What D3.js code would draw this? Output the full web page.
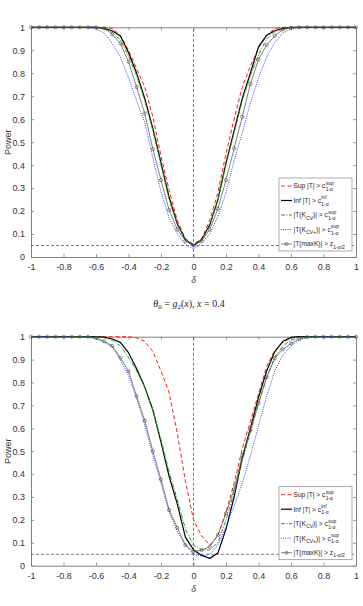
<!DOCTYPE html>
<html><head><meta charset="utf-8">
<script src="https://cdn.jsdelivr.net/npm/d3@7"></script>
<style>body{margin:0;background:#fff}svg{display:block}</style>
</head><body>
<script>
const delta = [-1,-0.95,-0.9,-0.85,-0.8,-0.75,-0.7,-0.65,-0.6,-0.55,-0.5,-0.45,-0.4,-0.35,-0.3,-0.25,-0.2,-0.15,-0.1,-0.05,0,0.05,0.1,0.15,0.2,0.25,0.3,0.35,0.4,0.45,0.5,0.55,0.6,0.65,0.7,0.75,0.8,0.85,0.9,0.95,1];
const xTicks = [-1,-0.8,-0.6,-0.4,-0.2,0,0.2,0.4,0.6,0.8,1];
const xTickLabels = ["-1","-0.8","-0.6","-0.4","-0.2","0","0.2","0.4","0.6","0.8","1"];
const yTicks = [0,0.1,0.2,0.3,0.4,0.5,0.6,0.7,0.8,0.9,1];
const yTickLabels = ["0","0.1","0.2","0.3","0.4","0.5","0.6","0.7","0.8","0.9","1"];
const alphaLevel = 0.05;

// Panel 1
const supT1 = [1,1,1,1,1,1,1,1,1, 1,0.995,0.965,0.9,0.82,0.74,0.61,0.44,0.29,0.16,0.08,0.055,0.08,0.16,0.28,0.45,0.6,0.74,0.83,0.91,0.965,0.995, 1,1,1,1,1,1,1,1,1,1];
const infT1 = [1,1,1,1,1,1,1,1,1, 0.995,0.985,0.962,0.89,0.8,0.69,0.56,0.41,0.26,0.145,0.075,0.05,0.075,0.14,0.25,0.41,0.55,0.69,0.8,0.915,0.965,0.985,0.995, 1,1,1,1,1,1,1,1,1];
const cvT1  = [1,1,1,1,1,1,1,1,1, 0.993,0.978,0.945,0.875,0.79,0.68,0.55,0.4,0.25,0.14,0.075,0.05,0.072,0.135,0.245,0.4,0.54,0.68,0.79,0.88,0.95,0.98,0.993, 1,1,1,1,1,1,1,1,1];
const cvpT1 = [1,1,1,1,1,1,1, 0.998,0.993,0.975,0.93,0.87,0.78,0.68,0.585,0.43,0.285,0.17,0.1,0.055,0.035,0.06,0.1,0.175,0.28,0.42,0.54,0.67,0.78,0.87,0.935,0.975,0.993,0.998, 1,1,1,1,1,1,1];
const maxK1 = [1,1,1,1,1,1,1,1,1, 0.995,0.97,0.93,0.85,0.74,0.625,0.47,0.335,0.205,0.12,0.07,0.05,0.07,0.12,0.21,0.335,0.473,0.61,0.753,0.86,0.923,0.963,0.99,0.998, 1,1,1,1,1,1,1,1];

// Panel 2
const supT2 = [1,1,1,1,1,1,1,1,1,1,1,1,1, 0.995,0.98,0.935,0.85,0.755,0.58,0.37,0.2,0.13,0.09,0.13,0.235,0.36,0.51,0.63,0.75,0.87,0.94,0.975,0.995, 1,1,1,1,1,1,1,1];
const infT2 = [1,1,1,1,1,1,1,1,1, 0.998,0.99,0.975,0.93,0.86,0.78,0.68,0.54,0.39,0.27,0.125,0.07,0.045,0.032,0.055,0.16,0.3,0.47,0.6,0.735,0.85,0.935,0.98,0.997, 1,1,1,1,1,1,1,1];
const cvT2  = [1,1,1,1,1,1,1,1,1, 0.995,0.985,0.96,0.91,0.85,0.78,0.68,0.55,0.41,0.29,0.16,0.09,0.07,0.068,0.1,0.2,0.32,0.46,0.58,0.71,0.82,0.91,0.96,0.985,0.997, 1,1,1,1,1,1,1];
const cvpT2 = [1,1,1,1,1,1,1, 0.998,0.99,0.975,0.955,0.9,0.83,0.73,0.615,0.48,0.36,0.235,0.15,0.09,0.05,0.042,0.05,0.09,0.17,0.26,0.36,0.48,0.61,0.74,0.85,0.92,0.96,0.985,0.997, 1,1,1,1,1,1];
const maxK2 = [1,1,1,1,1,1,1,1, 0.995,0.98,0.96,0.908,0.85,0.74,0.633,0.5,0.377,0.243,0.166,0.09,0.061,0.068,0.083,0.134,0.229,0.334,0.48,0.593,0.709,0.823,0.906,0.945,0.97,0.99,0.998, 1,1,1,1,1,1];

const seriesStyle = [
  {key:"sup", color:"#ff1a1a", width:1, dash:"4,2.5"},
  {key:"inf", color:"#000000", width:1.2, dash:null},
  {key:"cv",  color:"#1fa01f", width:1, dash:"4,1.5,1,1.5"},
  {key:"cvp", color:"#2b2bff", width:0.9, dash:"1,1.2"},
  {key:"maxK",color:"#4a4a4a", width:0.7, dash:null, marker:true}
];
const legendLabels = [
  [{t:"Sup |T| > c"},{stack:["sup","1-α"]}],
  [{t:"Inf |T| > c"},{stack:["inf","1-α"]}],
  [{t:"|T(K"},{sub:"CV"},{t:")| > c"},{stack:["sup","1-α"]}],
  [{t:"|T(K"},{sub:"CV+"},{t:")| > c"},{stack:["sup","1-α"]}],
  [{t:"|T(maxK)| > z"},{sub:"1-α/2"}]
];

const W = 363, H = 606;
const svg = d3.select("body").append("svg").attr("width", W).attr("height", H);
const x = d3.scaleLinear().domain([-1,1]).range([31,356]);
const sansFont = "Liberation Sans, Arial, sans-serif";
const serifFont = "Liberation Serif, DejaVu Serif, serif";

function panel(cfg){
  const y = d3.scaleLinear().domain([0,1]).range([cfg.bottom, cfg.top]);
  const g = svg.append("g");
  // title
  const tt = g.append("text").attr("x", 189).attr("y", cfg.top - 30)
    .attr("text-anchor","middle").attr("font-family", serifFont).attr("font-size", 10).attr("fill","#222");
  tt.append("tspan").attr("font-style","italic").text("θ");
  tt.append("tspan").attr("font-size",7).attr("dy",2).text("0");
  tt.append("tspan").attr("dy",-2).text(" = ");
  tt.append("tspan").attr("font-style","italic").text("g");
  tt.append("tspan").attr("font-size",7).attr("dy",2).text(cfg.gIdx);
  tt.append("tspan").attr("dy",-2).text("(");
  tt.append("tspan").attr("font-style","italic").text("x");
  tt.append("tspan").text("), ");
  tt.append("tspan").attr("font-style","italic").text("x");
  tt.append("tspan").text(" = 0.4");

  // axes box
  const axColor = "#808080";
  const bottomAx = g.append("g").attr("transform",`translate(0,${cfg.bottom})`)
    .call(d3.axisBottom(x).tickValues(xTicks).tickSizeInner(-3).tickSizeOuter(0).tickPadding(7).tickFormat((d,i)=>xTickLabels[i]));
  const topAx = g.append("g").attr("transform",`translate(0,${cfg.top})`)
    .call(d3.axisTop(x).tickValues(xTicks).tickSizeInner(-3).tickSizeOuter(0).tickFormat(""));
  const leftAx = g.append("g").attr("transform",`translate(${x.range()[0]},0)`)
    .call(d3.axisLeft(y).tickValues(yTicks).tickSizeInner(-3).tickSizeOuter(0).tickPadding(6).tickFormat((d,i)=>yTickLabels[i]));
  const rightAx = g.append("g").attr("transform",`translate(${x.range()[1]},0)`)
    .call(d3.axisRight(y).tickValues(yTicks).tickSizeInner(-3).tickSizeOuter(0).tickFormat(""));
  [bottomAx, topAx, leftAx, rightAx].forEach(a=>{
    a.select(".domain").attr("stroke", axColor).attr("stroke-width",1);
    a.selectAll(".tick line").attr("stroke", axColor).attr("stroke-width",0.8);
    a.selectAll(".tick text").attr("fill","#333").attr("font-family",sansFont).attr("font-size",9);
  });
  // y label
  g.append("text").attr("transform",`translate(11,${(cfg.top+cfg.bottom)/2}) rotate(-90)`)
    .attr("text-anchor","middle").attr("font-family",sansFont).attr("font-size",9).attr("fill","#333").text("Power");
  // x label
  g.append("text").attr("x", x(0)).attr("y", cfg.bottom + 26).attr("text-anchor","middle")
    .attr("font-family",serifFont).attr("font-style","italic").attr("font-size",10).attr("fill","#333").text("δ");

  // reference lines
  g.append("line").attr("x1",x(0)).attr("x2",x(0)).attr("y1",y(0)).attr("y2",y(1))
    .attr("stroke","#222").attr("stroke-width",0.6).attr("stroke-dasharray","3,2");
  g.append("line").attr("x1",x(-1)).attr("x2",x(1)).attr("y1",y(alphaLevel)).attr("y2",y(alphaLevel))
    .attr("stroke","#222").attr("stroke-width",0.6).attr("stroke-dasharray","3,2");

  const line = d3.line().x((d,i)=>x(delta[i])).y(d=>y(d));
  seriesStyle.forEach((s,k)=>{
    const vals = cfg.series[k];
    g.append("path").datum(vals).attr("d", line).attr("fill","none")
      .attr("stroke", s.color).attr("stroke-width", s.width)
      .attr("stroke-dasharray", s.dash).attr("stroke-linejoin","round");
    if (s.marker){
      g.selectAll(null).data(vals).enter().append("circle")
        .attr("cx",(d,i)=>x(delta[i])).attr("cy",d=>y(d)).attr("r",1.6)
        .attr("fill","none").attr("stroke",s.color).attr("stroke-width",0.6);
    }
  });

  // legend
  const lx = 279, ly = cfg.bottom - 79, lw = 73, lh = 73;
  const lg = g.append("g");
  lg.append("rect").attr("x",lx).attr("y",ly).attr("width",lw).attr("height",lh)
    .attr("fill","#fff").attr("stroke","#888").attr("stroke-width",0.7);
  seriesStyle.forEach((s,k)=>{
    const cy = ly + 8 + k*14.5;
    lg.append("line").attr("x1",lx+2).attr("x2",lx+13).attr("y1",cy).attr("y2",cy)
      .attr("stroke",s.color).attr("stroke-width",s.width).attr("stroke-dasharray",s.dash);
    if (s.marker) lg.append("circle").attr("cx",lx+7.5).attr("cy",cy).attr("r",1.5)
      .attr("fill","none").attr("stroke",s.color).attr("stroke-width",0.6);
    let cx = lx + 14.5;
    legendLabels[k].forEach(p=>{
      if (p.t!==undefined){
        const t = lg.append("text").attr("x",cx).attr("y",cy+2.3).attr("font-family",sansFont)
          .attr("font-size",6.6).attr("fill","#222").text(p.t);
        cx += t.node().getComputedTextLength();
      } else if (p.sub!==undefined){
        const t = lg.append("text").attr("x",cx+0.3).attr("y",cy+4.5).attr("font-family",sansFont)
          .attr("font-size",5).attr("fill","#222").text(p.sub);
        cx += t.node().getComputedTextLength()+0.3;
      } else if (p.stack){
        const a = lg.append("text").attr("x",cx+0.3).attr("y",cy-1.2).attr("font-family",sansFont)
          .attr("font-size",5).attr("fill","#222").text(p.stack[0]);
        const b = lg.append("text").attr("x",cx+0.3).attr("y",cy+5).attr("font-family",sansFont)
          .attr("font-size",5).attr("fill","#222").text(p.stack[1]);
        cx += Math.max(a.node().getComputedTextLength(), b.node().getComputedTextLength());
      }
    });
  });
}

panel({top:27.3, bottom:257, gIdx:"1", series:[supT1, infT1, cvT1, cvpT1, maxK1]});
panel({top:336.7, bottom:565.7, gIdx:"2", series:[supT2, infT2, cvT2, cvpT2, maxK2]});
</script>
</body></html>
